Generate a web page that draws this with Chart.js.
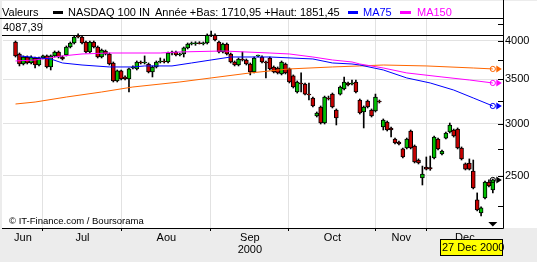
<!DOCTYPE html>
<html>
<head>
<meta charset="utf-8">
<script src="https://cdn.jsdelivr.net/npm/chart.js@4/dist/chart.umd.min.js"></script>
<style>
html, body { margin: 0; padding: 0; background: #ececec; overflow: hidden; }
canvas { display: block; }
</style>
</head>
<body>
<canvas id="c" width="537" height="262"></canvas>
<script>
// daily candles, NASDAQ 100, mid June -> 27 Dec 2000 (index = trading day)
const opens = [3986,3823,3692,3783,3705,3770,3679,3770,3797,3654,3797,3850,3783,3810,3917,3972,4070,4056,3986,3850,
  3986,3917,3783,3863,3823,3705,3480,3604,3529,3505,3641,3629,3718,3705,3692,3591,3654,3718,3731,3718,
  3836,3850,3810,3823,3904,3958,3962,3975,3962,3972,4075,4084,3986,3850,3958,3823,3718,3679,3757,3744,
  3692,3591,3797,3783,3718,3770,3654,3641,3566,3692,3629,3542,3349,3456,3444,3325,3280,3081,3179,3006,
  3280,3325,3146,3325,3384,3456,3444,3468,3257,3124,3246,3146,3135,3246,2965,3017,2955,2844,2814,2747,
  2756,2924,2775,2643,2483,2579,2575,2662,2844,2699,2853,2914,2934,2944,2756,2607,2616,2544,2300,2198,
  2316,2448,2381];
const highs = [4000,3836,3797,3797,3797,3783,3783,3810,3810,3810,3863,3863,3797,3931,3986,4070,4099,4070,4000,4000,
  4000,3931,3890,3876,3836,3718,3616,3616,3542,3641,3667,3731,3731,3797,3705,3667,3731,3770,3757,3850,
  3863,3863,3836,3917,3972,3986,3990,3990,3986,4099,4140,4099,4000,3972,3972,3836,3731,3770,3850,3757,
  3705,3783,3810,3797,3731,3783,3667,3654,3731,3705,3641,3554,3480,3579,3456,3456,3291,3124,3190,3302,
  3302,3337,3157,3420,3529,3468,3492,3492,3268,3190,3257,3157,3325,3257,3049,3027,2965,2853,2824,2756,
  2853,2934,2785,2653,2588,2671,2680,2873,2853,2737,2914,3006,2944,2955,2766,2616,2653,2643,2357,2245,
  2457,2466,2474];
const lows = [3783,3667,3679,3692,3692,3641,3667,3757,3641,3616,3783,3770,3744,3797,3904,3958,4042,3958,3836,3836,
  3904,3770,3770,3810,3679,3468,3468,3492,3492,3349,3629,3616,3692,3692,3579,3529,3641,3705,3705,3705,
  3810,3797,3797,3783,3890,3945,3940,3958,3945,3958,4060,4000,3836,3836,3810,3705,3667,3667,3731,3679,
  3554,3579,3783,3705,3517,3616,3579,3566,3554,3566,3456,3396,3337,3349,3314,3257,3179,3070,2996,2996,
  3257,3168,2986,3314,3372,3420,3432,3337,3102,2955,3168,3070,3124,3223,2934,2924,2863,2795,2785,2662,
  2747,2747,2616,2607,2423,2553,2550,2653,2737,2690,2844,2904,2863,2747,2643,2553,2553,2390,2214,2176,
  2308,2406,2357];
const closes = [3797,3692,3783,3705,3783,3679,3770,3797,3654,3797,3850,3783,3757,3917,3972,4056,4056,3972,3850,3986,
  3917,3783,3876,3823,3692,3480,3604,3505,3505,3629,3654,3718,3705,3718,3591,3654,3718,3731,3718,3836,
  3850,3810,3823,3904,3958,3972,3975,3962,3975,4084,4087.39,4014,3850,3958,3823,3718,3679,3757,3744,3692,
  3591,3770,3810,3718,3705,3629,3591,3579,3718,3579,3468,3408,3468,3444,3325,3314,3190,3113,3006,3291,
  3268,3179,3059,3408,3468,3432,3456,3349,3113,3179,3179,3081,3291,3234,3038,2934,2934,2804,2795,2671,
  2844,2756,2625,2616,2517,2561,2562,2863,2747,2727,2904,2986,2873,2756,2653,2561,2561,2398,2221,2237,
  2448,2415,2466];

// moving averages: [day index, value]
const ma75 = [[1,3797],[9,3757],[12,3705],[17,3679],[24,3654],[30,3654],[33,3667],[40,3667],[45,3705],[50,3744],
  [55,3783],[65,3783],[76,3757],[81,3705],[86,3692],[88,3679],[94,3616],[100,3517],[106,3456],[112,3372],[117,3280],[122,3190]];
const ma150 = [[0,3731],[5,3744],[12,3797],[17,3823],[24,3836],[37,3836],[42,3850],[53,3863],[65,3836],[70,3823],
  [76,3783],[81,3744],[86,3718],[88,3692],[94,3641],[100,3579],[109,3529],[116,3492],[122,3456]];
const maLong = [[0,3212],[5,3234],[13,3291],[22,3349],[30,3408],[42,3468],[50,3517],[60,3579],[70,3629],[81,3654],
  [88,3667],[94,3679],[105,3667],[117,3641],[122,3629]];

const monthStarts = [7.0, 27.2, 49.9, 69.9, 92.1, 105.1];
const monthLabels = ['Jun', 'Jul', 'Aou', ['Sep', '2000'], 'Oct', 'Nov', 'Dec'];
const yTicks = [2250, 2500, 2750, 3000, 3250, 3500, 3750, 4000, 4250];
const maxValue = 4087.39;
const lastDate = '27 Dec 2000';
const xMin = -3.2, xMax = 124.6;
const yMin = 2086, yMax = 4318;

const FONT = '"Liberation Sans", Arial, sans-serif';
const GREEN = '#00c000', RED = '#c80000';

const xTicks = [];
const bounds = [xMin, ...monthStarts, xMax];
for (let i = 0; i < monthLabels.length; i++) {
	xTicks.push((bounds[i] + bounds[i + 1]) / 2);
	if (i < monthStarts.length) xTicks.push(monthStarts[i]);
}

function txt(ctx, s, x, y, color, size) {
	ctx.fillStyle = color;
	ctx.font = size + 'px ' + FONT;
	ctx.textBaseline = 'middle';
	ctx.textAlign = 'left';
	ctx.fillText(s, x, y);
}

function endMarker(ctx, x, y, color) {
	ctx.strokeStyle = color;
	ctx.fillStyle = color;
	ctx.lineWidth = 1;
	ctx.beginPath();
	ctx.arc(x, y, 2.6, 0, Math.PI * 2);
	ctx.stroke();
	ctx.beginPath();
	ctx.moveTo(x + 3.5, y - 3.5);
	ctx.lineTo(x + 9, y);
	ctx.lineTo(x + 3.5, y + 3.5);
	ctx.closePath();
	ctx.fill();
}

const frame = {
	id: 'frame',
	beforeDraw(chart) {
		const {ctx, chartArea: a} = chart;
		ctx.save();
		ctx.fillStyle = '#ececec';
		ctx.fillRect(0, 0, chart.width, chart.height);
		ctx.fillStyle = '#ffffff';
		ctx.fillRect(2, 1, chart.width - 2, a.bottom - 1);
		ctx.restore();
	},
	afterDatasetsDraw(chart) {
		const {ctx, chartArea: a} = chart;
		const xs = chart.scales.x, ys = chart.scales.y;
		const last = closes.length - 1;
		const lx = xs.getPixelForValue(last);
		ctx.save();
		// max line
		const my = Math.round(ys.getPixelForValue(maxValue)) + 0.5;
		ctx.strokeStyle = '#000';
		ctx.lineWidth = 1;
		ctx.beginPath();
		ctx.moveTo(a.left - 1, my);
		ctx.lineTo(a.right, my);
		ctx.stroke();
		txt(ctx, '4087,39', 3, 27.5, '#000', 11);
		// inner ticks on the value axis
		ctx.beginPath();
		yTicks.forEach(v => {
			const py = Math.round(ys.getPixelForValue(v)) + 0.5;
			ctx.moveTo(a.right - 5, py);
			ctx.lineTo(a.right, py);
		});
		ctx.stroke();
		// end markers
		endMarker(ctx, lx, ys.getPixelForValue(maLong[maLong.length - 1][1]), '#ff6600');
		endMarker(ctx, lx, ys.getPixelForValue(ma150[ma150.length - 1][1]), '#ff00ff');
		endMarker(ctx, lx, ys.getPixelForValue(ma75[ma75.length - 1][1]), '#0000ff');
		endMarker(ctx, lx, ys.getPixelForValue(closes[last]), '#000000');
		// last day marker
		ctx.fillStyle = '#000';
		ctx.beginPath();
		ctx.moveTo(lx - 4.5, a.bottom - 6);
		ctx.lineTo(lx + 4.5, a.bottom - 6);
		ctx.lineTo(lx, a.bottom - 1.5);
		ctx.closePath();
		ctx.fill();
		txt(ctx, '\u00a9 IT-Finance.com / Boursorama', 9, 221, '#000', 9.5);
		ctx.restore();
	},
	afterDraw(chart) {
		const {ctx, chartArea: a} = chart;
		ctx.save();
		ctx.strokeStyle = '#000';
		ctx.lineWidth = 1;
		ctx.beginPath();
		ctx.moveTo(0, 18.5); ctx.lineTo(a.right + 0.5, 18.5);
		ctx.moveTo(a.right + 0.5, 0); ctx.lineTo(a.right + 0.5, a.bottom + 0.5);
		ctx.moveTo(2, a.bottom + 0.5); ctx.lineTo(a.right + 0.5, a.bottom + 0.5);
		ctx.stroke();
		// header legend
		txt(ctx, 'Valeurs', 2, 13, '#000', 11);
		ctx.fillStyle = '#000'; ctx.fillRect(53, 11, 10, 3);
		txt(ctx, 'NASDAQ 100 IN', 68, 13, '#000', 11);
		txt(ctx, 'Ann\u00e9e +Bas: 1710,95 +Haut: 1851,45', 155, 13, '#000', 11);
		ctx.fillStyle = '#0000ff'; ctx.fillRect(348, 11, 10, 3);
		txt(ctx, 'MA75', 363, 13, '#0000ff', 11);
		ctx.fillStyle = '#ff00ff'; ctx.fillRect(400, 11, 11, 3);
		txt(ctx, 'MA150', 417, 13, '#ff00ff', 11);
		// date box
		ctx.fillStyle = '#ffff00';
		ctx.fillRect(440.5, 239.5, 62, 16);
		ctx.strokeRect(440.5, 239.5, 62, 16);
		txt(ctx, lastDate, 442, 248, '#000', 11);
		ctx.restore();
	}
};

const bodyColors = opens.map((o, i) => closes[i] >= o ? GREEN : RED);
const toXY = arr => arr.map(p => ({x: p[0], y: p[1]}));

new Chart(document.getElementById('c'), {
	type: 'bar',
	data: {
		datasets: [
			{type: 'line', label: 'MA75', data: toXY(ma75), borderColor: '#0000ff', borderWidth: 1, pointRadius: 0, tension: 0, order: 0},
			{type: 'line', label: 'MA150', data: toXY(ma150), borderColor: '#ff00ff', borderWidth: 1, pointRadius: 0, tension: 0, order: 0},
			{type: 'line', label: 'MA', data: toXY(maLong), borderColor: '#ff6600', borderWidth: 1, pointRadius: 0, tension: 0, order: 0},
			{
				label: 'body',
				data: opens.map((o, i) => ({x: i, y: [o, closes[i]]})),
				backgroundColor: bodyColors,
				borderColor: '#000',
				borderWidth: 1,
				borderSkipped: false,
				barThickness: 4,
				grouped: false,
				order: 1,
			},
			{
				label: 'wick',
				data: lows.map((l, i) => ({x: i, y: [l, highs[i]]})),
				backgroundColor: '#000',
				borderWidth: 0,
				barThickness: 1,
				grouped: false,
				order: 2,
			},
		],
	},
	options: {
		responsive: false,
		animation: false,
		devicePixelRatio: 1,
		layout: {padding: {left: 3, top: 19, right: 0, bottom: 0}},
		plugins: {legend: {display: false}, tooltip: {enabled: false}},
		scales: {
			x: {
				type: 'linear',
				min: xMin,
				max: xMax,
				offset: false,
				afterBuildTicks: s => { s.ticks = xTicks.map(v => ({value: v})); },
				afterFit: s => { s.height = 34; },
				border: {display: false},
				grid: {
					offset: false,
					color: c => c.index % 2 ? '#e2e2e2' : 'rgba(0,0,0,0)',
					tickColor: c => c.index % 2 ? '#000' : 'rgba(0,0,0,0)',
					tickLength: 3,
				},
				ticks: {
					autoSkip: false,
					maxRotation: 0,
					minRotation: 0,
					padding: 1,
					color: '#000',
					font: {family: FONT, size: 11, lineHeight: 1.1},
					callback: (v, i) => i % 2 ? '' : monthLabels[i / 2],
				},
			},
			y: {
				type: 'logarithmic',
				position: 'right',
				min: yMin,
				max: yMax,
				afterBuildTicks: s => { s.ticks = yTicks.map(v => ({value: v})); },
				afterFit: s => { s.width = 34; },
				border: {display: false},
				grid: {
					color: c => c.tick && c.tick.value % 500 === 0 ? '#e2e2e2' : 'rgba(0,0,0,0)',
					drawTicks: false,
				},
				ticks: {
					padding: 2,
					color: '#000',
					font: {family: FONT, size: 11},
					callback: v => v % 500 === 0 ? String(v) : '',
				},
			},
		},
	},
	plugins: [frame],
});
</script>
</body>
</html>
